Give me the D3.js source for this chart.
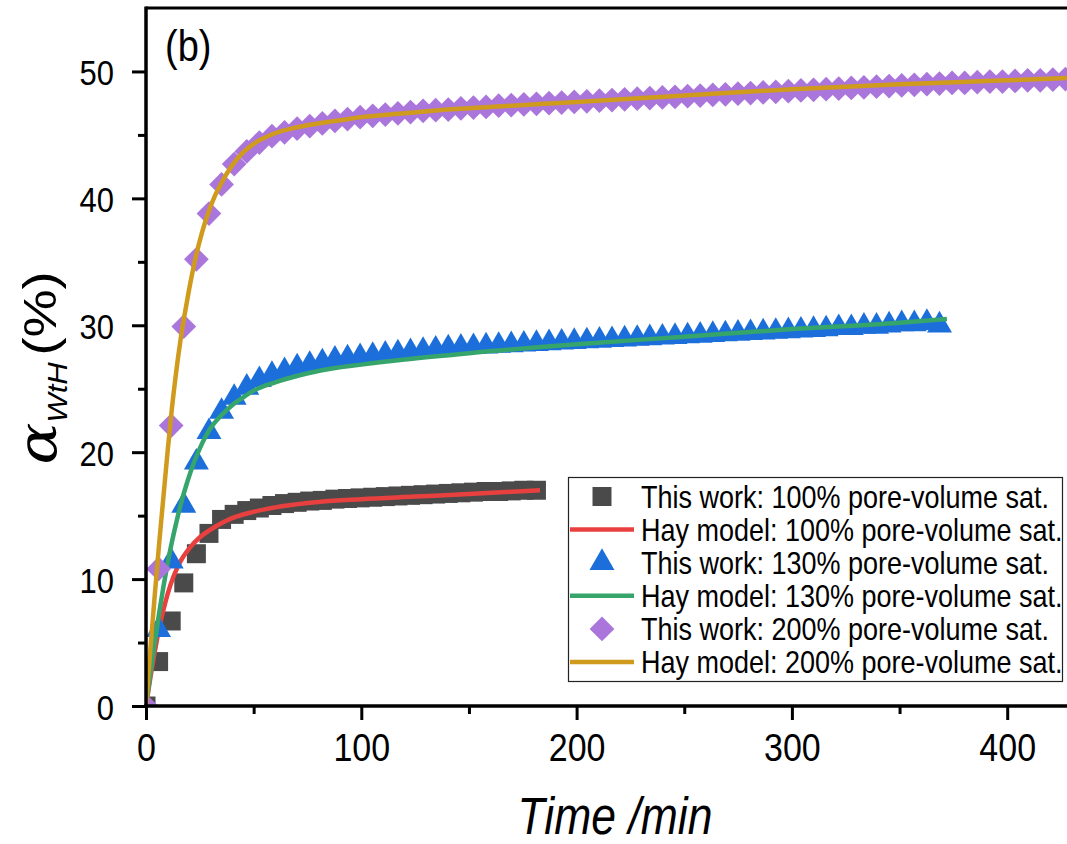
<!DOCTYPE html>
<html><head><meta charset="utf-8">
<script src="https://cdn.jsdelivr.net/npm/d3@7"></script>
<style>body{margin:0;background:#fff}svg{display:block}</style>
</head><body><svg id="c" width="1067" height="844"></svg>
<script>
// ---- data ----
const timeMin = [0,5.85,11.7,17.55,23.4,29.25,35.1,40.95,46.8,52.65,58.5,64.35,70.2,76.05,81.9,87.75,93.6,99.45,105.3,111.15,117.0,122.85,128.7,134.55,140.4,146.25,152.1,157.95,163.8,169.65,175.5,181.35,187.2,193.05,198.9,204.75,210.6,216.45,222.3,228.15,234.0,239.85,245.7,251.55,257.4,263.25,269.1,274.95,280.8,286.65,292.5,298.35,304.2,310.05,315.9,321.75,327.6,333.45,339.3,345.15,351.0,356.85,362.7,368.55,374.4,380.25,386.1,391.95,397.8,403.65,409.5,415.35,421.2,427.05];
const work100 = [0,3.5,6.7,9.7,12.0,13.6,14.7,15.1,15.4,15.6,15.8,15.95,16.05,16.15,16.2,16.3,16.35,16.4,16.45,16.5,16.55,16.6,16.65,16.7,16.75,16.8,16.85,16.9,16.9,16.95,17.0,17.0];
const work130 = [0,6.0,11.4,15.8,19.2,21.6,23.2,24.3,25.1,25.7,26.1,26.4,26.7,26.9,27.1,27.3,27.4,27.5,27.6,27.7,27.8,27.9,28.0,28.1,28.2,28.25,28.3,28.35,28.4,28.45,28.5,28.55,28.6,28.65,28.7,28.75,28.8,28.85,28.9,28.95,29.0,29.05,29.1,29.15,29.2,29.25,29.3,29.35,29.4,29.45,29.5,29.55,29.6,29.65,29.7,29.8,29.8,29.9,29.9,30.0,30.1,30.1,30.2,30.0];
const work200 = [0,10.8,22.1,29.9,35.2,38.8,41.1,42.7,43.7,44.4,44.9,45.2,45.5,45.7,45.9,46.1,46.25,46.4,46.5,46.6,46.7,46.8,46.9,46.95,47.0,47.1,47.15,47.2,47.3,47.35,47.4,47.45,47.5,47.55,47.6,47.65,47.7,47.75,47.8,47.85,47.9,47.95,48.0,48.05,48.1,48.15,48.2,48.25,48.3,48.35,48.4,48.45,48.5,48.55,48.6,48.65,48.7,48.75,48.8,48.85,48.9,48.95,49.0,49.05,49.1,49.1,49.15,49.2,49.2,49.25,49.3,49.3,49.35,49.4];

const hay100T = [0,2,4,6,8,10,13,16,20,25,30,35,40,50,60,75,100,125,150,183];
const hay100V = [0,2.2,4.2,6.0,7.5,8.8,10.3,11.4,12.4,13.3,13.9,14.4,14.8,15.3,15.65,16.0,16.3,16.5,16.7,17.0];
const hay130T = [0,2,4,6,8,10,12,14,16,18,21,25,30,35,40,45,50,60,70,80,100,120,150,200,250,300,350,372];
const hay130V = [0,2.5,4.9,7.2,9.3,11.2,12.9,14.4,15.8,17.0,18.6,20.3,21.9,22.9,23.7,24.3,24.85,25.5,26.0,26.4,26.9,27.3,27.8,28.5,29.1,29.7,30.2,30.5];
const hay200T = [0,2,4,6,8,10,12,14,16,18,20,23,26,29,32,35,40,45,50,58,70,80,90,100,120,140,170,200,250,300,350,400,430];
const hay200V = [0,4.4,8.6,12.6,16.3,20.0,23.4,26.3,28.8,30.9,32.8,35.3,37.3,38.9,40.2,41.2,42.6,43.6,44.3,45.0,45.6,45.9,46.15,46.4,46.7,47.0,47.3,47.6,48.1,48.6,49.0,49.3,49.5];

const xTicks = [0,100,200,300,400];
const xMinor = [50,150,250,350];
const yTicks = [0,10,20,30,40,50];
const yMinor = [5,15,25,35,45];

const labels = ["This work: 100% pore-volume sat.","Hay model: 100% pore-volume sat.",
  "This work: 130% pore-volume sat.","Hay model: 130% pore-volume sat.",
  "This work: 200% pore-volume sat.","Hay model: 200% pore-volume sat."];

// ---- drawing ----
const FONT = "'Liberation Sans', Arial, sans-serif";
const VS = 1.15; // vertical text stretch of the original picture
const C = {sq:'#4a4a4a', red:'#e8403f', tri:'#1c6fdb', green:'#36a56b', dia:'#aa76dc', gold:'#d09a1c'};

const svg = d3.select('#c');
const L = 146, T = 8, B = 706;
const x = d3.scaleLinear().domain([0,430]).range([L, L + 430*2.153]);
const y = d3.scaleLinear().domain([0,55]).range([B, T]);
const R = x(430);

svg.append('defs').append('clipPath').attr('id','clip')
  .append('rect').attr('x',L).attr('y',T).attr('width',R-L).attr('height',B-T);
const plot = svg.append('g').attr('clip-path','url(#clip)');

const line = d3.line().x(d=>x(d[0])).y(d=>y(d[1])).curve(d3.curveMonotoneX);
const symSq = d3.symbol(d3.symbolSquare, 19*19);
const symTri = d3.symbol(d3.symbolTriangle, 270);
const symDia = d3.symbol(d3.symbolSquare, 17.5*17.5);

function markers(vals, sym, color, rot){
  plot.append('g').selectAll('path').data(vals.map((v,i)=>[timeMin[i],v])).join('path')
    .attr('d', sym).attr('fill', color)
    .attr('transform', d=>`translate(${x(d[0])},${y(d[1])})${rot?' rotate(45)':''}`);
}
function model(ts, vs, color){
  plot.append('path').datum(ts.map((t,i)=>[t,vs[i]])).attr('d', line)
    .attr('fill','none').attr('stroke', color).attr('stroke-width',4.5);
}
markers(work100, symSq, C.sq);
model(hay100T, hay100V, C.red);
markers(work130, symTri, C.tri);
model(hay130T, hay130V, C.green);
markers(work200, symDia, C.dia, true);
model(hay200T, hay200V, C.gold);

// axes
function styleAxis(g){
  g.select('.domain').attr('stroke','#000').attr('stroke-width',3.5);
  g.selectAll('.tick line').attr('stroke','#000').attr('stroke-width',3);
}
const gx = svg.append('g').attr('transform',`translate(0,${B})`)
  .call(d3.axisBottom(x).tickValues(xTicks).tickSize(14).tickSizeOuter(0).tickFormat(d3.format('d')));
styleAxis(gx);
gx.selectAll('.tick text').attr('font-family',FONT).attr('font-size',34).attr('fill','#000')
  .attr('y',null).attr('dy',null)
  .attr('transform',`translate(0,55) scale(1,${VS})`);
const gxm = svg.append('g').attr('transform',`translate(0,${B})`)
  .call(d3.axisBottom(x).tickValues(xMinor).tickSize(8).tickSizeOuter(0).tickFormat(''));
styleAxis(gxm); gxm.select('.domain').remove();

const gy = svg.append('g').attr('transform',`translate(${L},0)`)
  .call(d3.axisLeft(y).tickValues(yTicks).tickSize(14).tickSizeOuter(0).tickFormat(d3.format('d')));
styleAxis(gy);
gy.selectAll('.tick text').attr('font-family',FONT).attr('font-size',31).attr('fill','#000')
  .attr('x',null).attr('dy',null)
  .attr('transform',`translate(-32,13) scale(1,${VS})`);
const gym = svg.append('g').attr('transform',`translate(${L},0)`)
  .call(d3.axisLeft(y).tickValues(yMinor).tickSize(8).tickSizeOuter(0).tickFormat(''));
styleAxis(gym); gym.select('.domain').remove();
gy.select('.domain').attr('d', `M0,${T-1.5}V${B}`);
gx.select('.domain').attr('d', `M${L-1.75},0H${R+10}`);

// top frame
svg.append('line').attr('x1',L).attr('x2',R+10).attr('y1',T).attr('y2',T)
  .attr('stroke','#000').attr('stroke-width',3);

// panel label
svg.append('text').attr('font-family',FONT).attr('font-size',38)
  .attr('transform',`translate(165,61) scale(1,${VS})`).text('(b)');

// axis titles
svg.append('text').attr('font-family',FONT).attr('font-size',44.5).attr('font-style','italic')
  .attr('text-anchor','middle').attr('transform',`translate(615,834) scale(1,${VS})`).text('Time /min');

const yt = svg.append('text').attr('font-family',FONT).attr('text-anchor','middle')
  .attr('transform',`translate(56,368) rotate(-90) scale(${VS},1)`);
yt.append('tspan').attr('font-family',"'DejaVu Serif', serif").attr('font-style','italic').attr('font-size',54).text('α');
yt.append('tspan').attr('font-style','italic').attr('font-size',27).attr('dy',11).text('WtH');
yt.append('tspan').attr('font-size',47).attr('dy',-11).attr('dx',6).text('(%)');

// legend
const lg = svg.append('g');
lg.append('rect').attr('x',568.5).attr('y',477.5).attr('width',494).attr('height',204)
  .attr('fill','#fff').attr('stroke','#222').attr('stroke-width',1.2);
const items = [
  {k:'sym', s:symSq, c:C.sq}, {k:'line', c:C.red},
  {k:'sym', s:symTri, c:C.tri}, {k:'line', c:C.green},
  {k:'sym', s:symDia, c:C.dia, rot:true}, {k:'line', c:C.gold}];
items.forEach((it,i)=>{
  const cy = 496.5 + i*33.1;
  if(it.k==='sym'){
    lg.append('path').attr('d', it.s).attr('fill', it.c)
      .attr('transform',`translate(602,${cy})${it.rot?' rotate(45)':''}`);
  } else {
    lg.append('line').attr('x1',570).attr('x2',634).attr('y1',cy).attr('y2',cy)
      .attr('stroke',it.c).attr('stroke-width',4.5);
  }
  lg.append('text').attr('font-family',FONT).attr('font-size',27).attr('fill','#000')
    .attr('transform',`translate(641,${cy+11}) scale(1,${VS})`).text(labels[i]);
});
</script></body></html>
